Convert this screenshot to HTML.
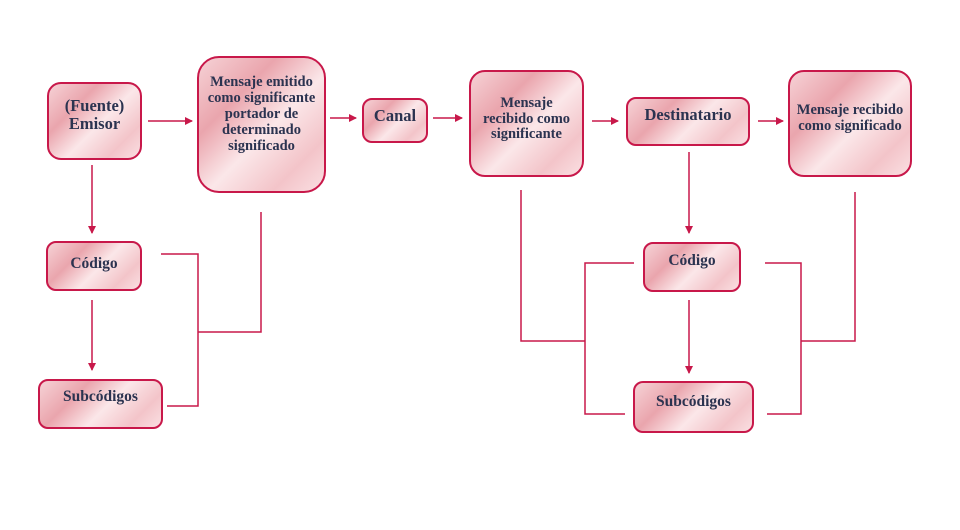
<!DOCTYPE html>
<html><head><style>
body{margin:0;background:#fff;width:960px;height:530px;position:relative;overflow:hidden;font-family:"Liberation Serif",serif;}
.b{position:absolute;box-sizing:border-box;border:2px solid #c8184a;border-radius:14px;background:linear-gradient(135deg,#f6d2d6 0%,#eaa5ad 30%,#fbe7e9 55%,#f3c4c9 80%,#fadfe2 100%);display:flex;justify-content:center;color:#2b3350;font-weight:bold;font-size:15px;line-height:16px;text-align:center;white-space:nowrap;}
</style></head><body>
<div class="b" style="left:47px;top:82px;width:95px;height:78px;align-items:center;padding-bottom:12px;font-size:16.5px;line-height:18px">(Fuente)<br>Emisor</div>
<div class="b" style="left:197px;top:56px;width:129px;height:137px;border-radius:22px;padding-top:16px;font-size:14.5px">Mensaje emitido<br>como significante<br>portador de<br>determinado<br>significado</div>
<div class="b" style="left:362px;top:98px;width:66px;height:45px;border-radius:10px;align-items:center;padding-bottom:10px;font-size:16.5px">Canal</div>
<div class="b" style="left:469px;top:70px;width:115px;height:107px;border-radius:16px;padding-top:24px;font-size:14.5px;line-height:15.5px">Mensaje<br>recibido como<br>significante</div>
<div class="b" style="left:626px;top:97px;width:124px;height:49px;border-radius:10px;padding-top:8px;font-size:16.5px">Destinatario</div>
<div class="b" style="left:788px;top:70px;width:124px;height:107px;border-radius:16px;padding-top:31px;font-size:14.5px;line-height:15.5px">Mensaje recibido<br>como significado</div>
<div class="b" style="left:46px;top:241px;width:96px;height:50px;border-radius:10px;padding-top:13px;font-size:15.5px">Código</div>
<div class="b" style="left:38px;top:379px;width:125px;height:50px;border-radius:10px;padding-top:8px;font-size:15.5px">Subcódigos</div>
<div class="b" style="left:643px;top:242px;width:98px;height:50px;border-radius:10px;padding-top:9px;font-size:15.5px">Código</div>
<div class="b" style="left:633px;top:381px;width:121px;height:52px;border-radius:10px;padding-top:11px;font-size:15.5px">Subcódigos</div>
<svg width="960" height="530" style="position:absolute;left:0;top:0" fill="none" stroke="#c8184a" stroke-width="1.5">
<defs><marker id="a" markerWidth="8" markerHeight="8" refX="7" refY="4" orient="auto" markerUnits="userSpaceOnUse"><path d="M0,0L8,4L0,8z" fill="#c8184a" stroke="none"/></marker></defs>
<g marker-end="url(#a)">
<line x1="148" y1="121" x2="192" y2="121"/>
<line x1="330" y1="118" x2="356" y2="118"/>
<line x1="433" y1="118" x2="462" y2="118"/>
<line x1="592" y1="121" x2="618" y2="121"/>
<line x1="758" y1="121" x2="783" y2="121"/>
<line x1="92" y1="165" x2="92" y2="233"/>
<line x1="92" y1="300" x2="92" y2="370"/>
<line x1="689" y1="152" x2="689" y2="233"/>
<line x1="689" y1="300" x2="689" y2="373"/>
</g>
<polyline points="161,254 198,254 198,406 167,406"/>
<polyline points="261,212 261,332 198,332"/>
<polyline points="521,190 521,341 585,341"/>
<polyline points="634,263 585,263 585,414 625,414"/>
<polyline points="765,263 801,263 801,414 767,414"/>
<polyline points="855,192 855,341 801,341"/>
</svg>
</body></html>
